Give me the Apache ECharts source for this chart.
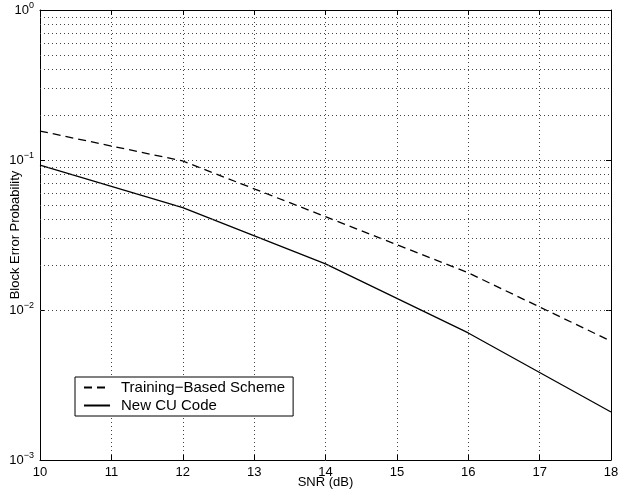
<!DOCTYPE html>
<html>
<head>
<meta charset="utf-8">
<script src="https://cdn.jsdelivr.net/npm/echarts@6/dist/echarts.min.js"></script>
<style>
  html, body { margin: 0; padding: 0; background: #fff; }
  #main { width: 633px; height: 490px; }
</style>
</head>
<body>
<div id="main"></div>
<script>
// data
const snr = [10, 12, 14, 16, 18];
const trainingBased = [0.156, 0.0985, 0.0419, 0.0177, 0.0062];
const newCuCode = [0.0926, 0.0482, 0.0203, 0.00703, 0.00209];
const xTicks = [10, 11, 12, 13, 14, 15, 16, 17, 18];

// minor log grid lines 2..9 in each decade
const decades = [0.001, 0.01, 0.1];
let minorGrid = [];
decades.forEach(d => {
    for (let k = 2; k <= 9; k++) minorGrid.push({ yAxis: +(k * d).toPrecision(3) });
});

const font = 'Liberation Sans, Arial, Helvetica, sans-serif';
const dots = { color: '#444', width: 1, type: [1, 3] };

let chart = echarts.init(document.getElementById('main'));

let option = {
    animation: false,
    backgroundColor: '#fff',
    textStyle: { fontFamily: font, color: '#000' },
    grid: { left: 40, right: 22, top: 10, bottom: 30, containLabel: false, outerBoundsMode: 'none' },
    legend: {
        orient: 'vertical',
        left: 75,
        top: 377,
        backgroundColor: '#fff',
        borderColor: '#000',
        borderWidth: 1,
        borderRadius: 0,
        padding: [3, 8, 3, 8],
        itemGap: 3,
        itemWidth: 26,
        itemHeight: 14,
        itemStyle: { opacity: 0 },
        textStyle: { fontSize: 15, fontFamily: font, color: '#000', padding: [0, 0, 0, 6] },
        data: ['Training−Based Scheme', 'New CU Code']
    },
    xAxis: [
        {
            type: 'value',
            min: 10,
            max: 18,
            interval: 1,
            name: 'SNR (dB)',
            nameLocation: 'middle',
            nameGap: 16,
            nameMoveOverlap: false,
            nameTextStyle: { fontSize: 13, color: '#000' },
            axisLine: { show: true, lineStyle: { color: '#000', width: 1 } },
            axisTick: { inside: true, length: 5, lineStyle: { color: '#000' } },
            axisLabel: { fontSize: 13, color: '#000', margin: 6 },
            splitLine: { show: true, lineStyle: dots }
        },
        {
            type: 'value',
            position: 'top',
            min: 10,
            max: 18,
            interval: 1,
            axisLine: { show: true, onZero: false, lineStyle: { color: '#000', width: 1 } },
            axisTick: { inside: true, length: 5, lineStyle: { color: '#000' } },
            axisLabel: { show: false },
            splitLine: { show: false }
        }
    ],
    yAxis: [
        {
            type: 'log',
            logBase: 10,
            min: 0.001,
            max: 1,
            name: 'Block Error Probability',
            nameLocation: 'middle',
            nameGap: 18,
            nameMoveOverlap: false,
            nameTextStyle: { fontSize: 13, color: '#000' },
            axisLine: { show: true, lineStyle: { color: '#000', width: 1 } },
            axisTick: { inside: true, length: 5, lineStyle: { color: '#000' } },
            axisLabel: {
                margin: 6,
                formatter: v => {
                    let e = Math.round(Math.log10(v));
                    return '{b|10}{s|' + (e < 0 ? '−' + (-e) : e) + '}';
                },
                rich: {
                    b: { fontSize: 13, color: '#000', fontFamily: font },
                    s: { fontSize: 9, color: '#000', fontFamily: font, padding: [0, 0, 9, 0] }
                }
            },
            splitLine: { show: true, lineStyle: dots }
        },
        {
            type: 'log',
            logBase: 10,
            min: 0.001,
            max: 1,
            position: 'right',
            axisLine: { show: true, lineStyle: { color: '#000', width: 1 } },
            axisTick: { inside: true, length: 5, lineStyle: { color: '#000' } },
            axisLabel: { show: false },
            splitLine: { show: false }
        }
    ],
    series: [
        {
            name: 'grid',
            type: 'line',
            data: [],
            silent: true,
            z: 1,
            markLine: {
                silent: true,
                symbol: 'none',
                label: { show: false },
                lineStyle: dots,
                data: minorGrid
            }
        },
        {
            name: 'Training−Based Scheme',
            type: 'line',
            data: snr.map((x, i) => [x, trainingBased[i]]),
            showSymbol: false,
            symbol: 'none',
            z: 3,
            itemStyle: { color: '#000' },
            lineStyle: { color: '#000', width: 1.3, type: [8, 5] }
        },
        {
            name: 'New CU Code',
            type: 'line',
            data: snr.map((x, i) => [x, newCuCode[i]]),
            showSymbol: false,
            symbol: 'none',
            z: 3,
            itemStyle: { color: '#000' },
            lineStyle: { color: '#000', width: 1.3, type: 'solid' }
        }
    ]
};
chart.setOption(option);
</script>
</body>
</html>
